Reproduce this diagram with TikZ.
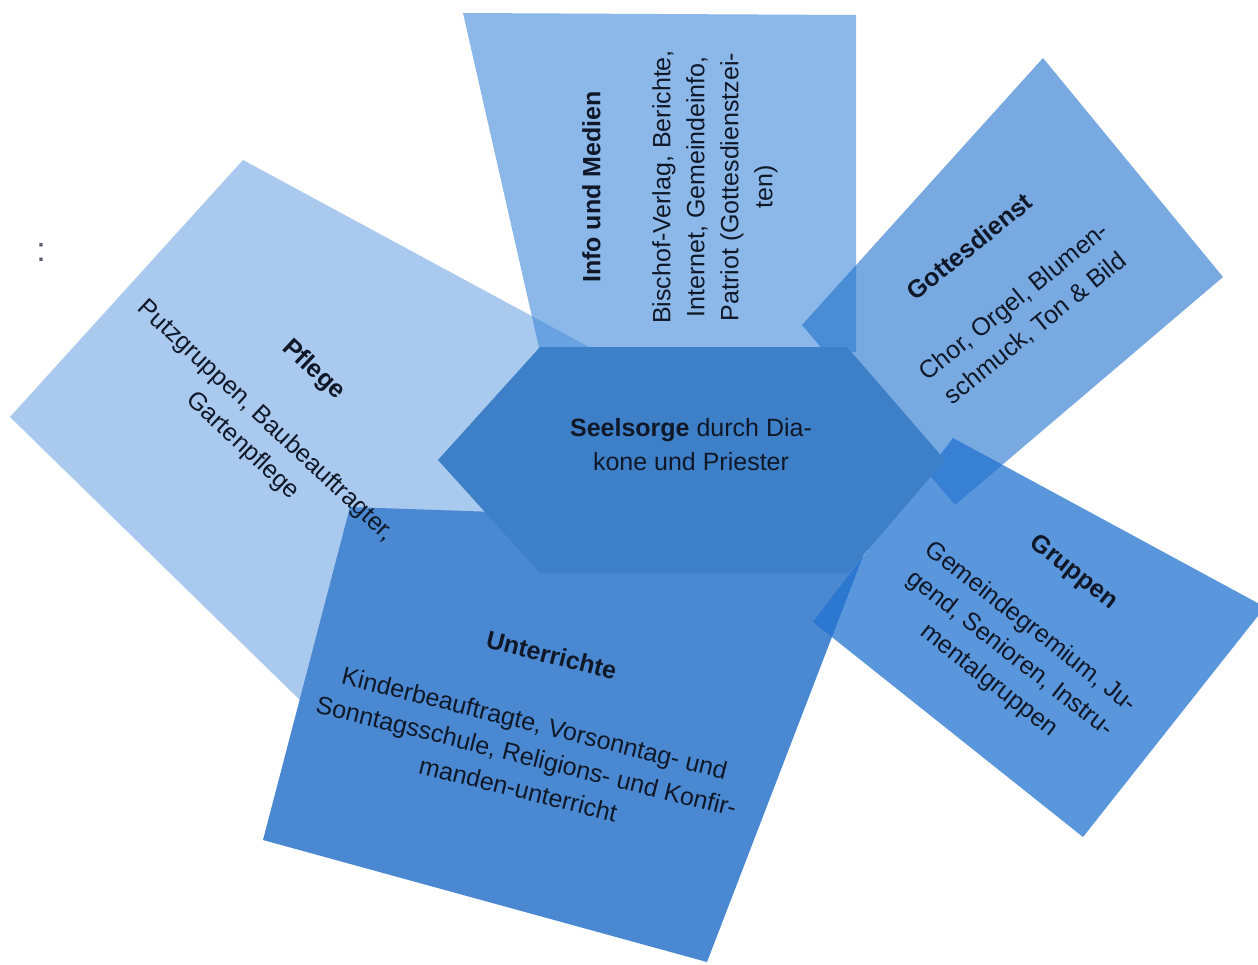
\documentclass[tikz,border=0pt]{standalone}
\usepackage{fontspec}
\setmainfont{Liberation Sans}
\definecolor{pflegeC}{RGB}{169,201,239}
\definecolor{unterC}{RGB}{74,137,209}
\definecolor{infoC}{RGB}{63,137,217}
\definecolor{gottC}{RGB}{30,113,205}
\definecolor{gruppC}{RGB}{35,115,208}
\definecolor{hexC}{RGB}{62,128,200}
\definecolor{txtC}{RGB}{16,24,40}
\tikzset{
  lbl/.style={align=center, text=txtC, inner sep=0pt, font=\fontsize{25}{34}\selectfont},
  boxsolid/.style={fill=#1, draw=none},
  boxtrans/.style={fill=#1, fill opacity=0.6, draw=none}
}
\begin{document}
\begin{tikzpicture}[x=1pt,y=-1pt]
\fill[white] (0,0) rectangle (1258,964);
\clip (0,0) rectangle (1258,964);
% Pflege (solid)
\path[boxsolid=pflegeC] (10,417) -- (243,160) -- (650,380) -- (387,785) -- cycle;
% Unterrichte (solid)
\path[boxsolid=unterC] (350,507) -- (875,525) -- (707,962) -- (263,840) -- cycle;
% Info und Medien
\path[boxtrans=infoC] (463,13) -- (856,15) -- (856,352) -- (540,352) -- cycle;
% Gottesdienst
\path[boxtrans=gottC] (802,325) -- (1043,58) -- (1223,277) -- (955,505) -- cycle;
% Gruppen
\path[fill=gruppC, fill opacity=0.75] (953,438) -- (1265,607) -- (1083,837) -- (813,622) -- cycle;
% Central hexagon
\path[boxsolid=hexC] (438,460) -- (540,347) -- (847,347) -- (945,460) -- (848,573) -- (540,573) -- cycle;

% Texts
\node[lbl] (center) at (691,445) {\textbf{Seelsorge} durch Dia-\\kone und Priester};
\node[lbl, rotate=90] (info) at (680,187) {\textbf{Info und Medien}\\[36pt]Bischof-Verlag, Berichte,\\Internet, Gemeindeinfo,\\Patriot (Gottesdienstzei-\\ten)};
\node[lbl, rotate=39] (gott) at (1003,288) {\textbf{Gottesdienst}\\[36pt]Chor, Orgel, Blumen-\\schmuck, Ton \& Bild};
\node[lbl, rotate=-38] (grupp) at (1031,627) {\textbf{Gruppen}\\[36pt]Gemeindegremium, Ju-\\gend, Senioren, Instru-\\mentalgruppen};
\node[lbl, rotate=-14] (unter) at (535,722) {\textbf{Unterrichte}\\[36pt]Kinderbeauftragte, Vorsonntag- und\\Sonntagsschule, Religions- und Konfir-\\manden-unterricht};
\node[lbl, rotate=-43] (pflege) at (278,408) {\textbf{Pflege}\\[36pt]Putzgruppen, Baubeauftragter,\\Gartenpflege};
\node[inner sep=0pt, text=txtC!70, font=\fontsize{34}{34}\selectfont] (colon) at (41,253) {:};
\end{tikzpicture}
\end{document}
